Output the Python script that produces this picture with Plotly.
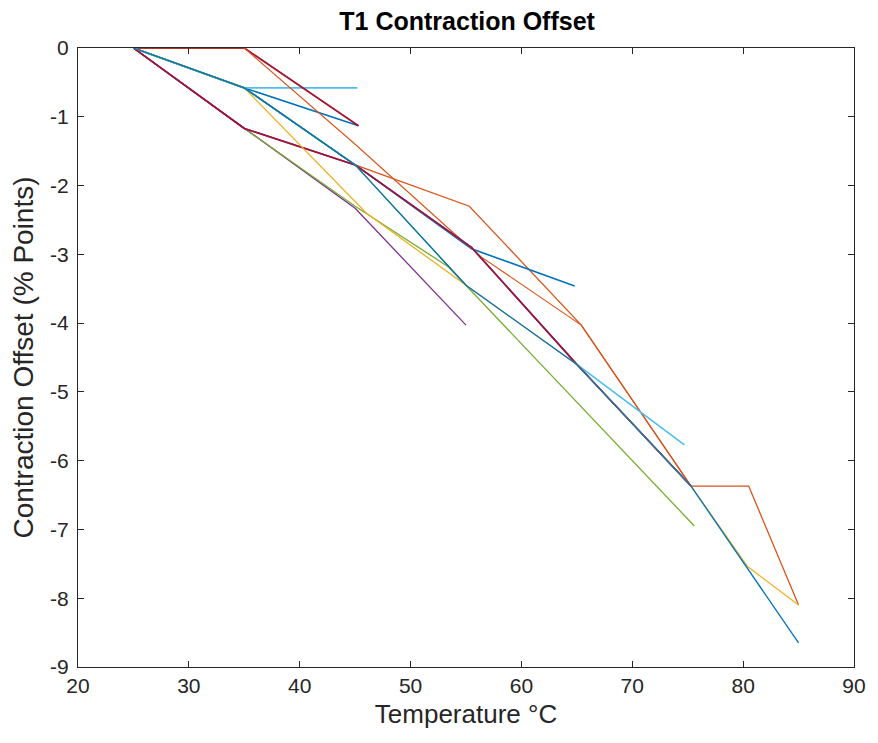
import plotly.graph_objects as go

# MATLAB default colour order
BLUE = "#0072BD"
ORANGE = "#D95319"
YELLOW = "#EDB120"
PURPLE = "#7E2F8E"
GREEN = "#77AC30"
LIGHTBLUE = "#4DBEEE"
DARKRED = "#A2142F"

# Series data (temperature °C, contraction offset % points)
s1_t = [25, 35, 45.3]
s1_v = [0, -0.58, -1.13]

s2_t = [25, 35, 45, 55.3, 65.4, 75.3, 80.5, 85]
s2_v = [0, -0.58, -1.7, -2.3, -4.03, -6.37, -6.37, -8.1]

s3_t = [25, 35, 46, 55, 65, 75.3, 80.4, 85]
s3_v = [0, -0.58, -2.4, -3.45, -4.6, -6.37, -7.54, -8.1]

s4_t = [25, 35, 45, 55]
s4_v = [0, -1.17, -2.33, -4.03]

s5_t = [25, 35, 45, 53.4, 75.6]
s5_v = [0, -1.17, -2.3, -3.18, -6.95]

s6_t = [25, 35, 45.2]
s6_v = [0, -0.58, -0.58]

s7_t = [25, 35, 45.3]
s7_v = [0, 0, -1.13]

s8_t = [25, 35, 45, 55.5, 64.8]
s8_v = [0, -0.58, -1.7, -2.92, -3.46]

s9_t = [25, 35, 45, 53.6, 56.4, 65.4, 75.3]
s9_v = [0, 0, -1.4, -2.65, -3.04, -4.03, -6.37]

s10_t = [25, 35, 45, 55.5, 65, 75.3]
s10_v = [0, -1.17, -1.7, -2.9, -4.6, -6.37]

s11_t = [25, 35, 45, 55]
s11_v = [0, -0.58, -1.7, -3.45]

s12_t = [25, 35, 45, 55.5, 65, 74.7]
s12_v = [0, -0.58, -1.7, -2.9, -4.6, -5.77]

s13_t = [25, 35, 45, 55.5, 65, 75.3]
s13_v = [0, -1.17, -1.7, -2.9, -4.6, -6.37]

s14_t = [25, 35, 45, 55, 65, 75.3, 85]
s14_v = [0, -0.58, -1.7, -3.45, -4.6, -6.37, -8.65]

x_ticks = [20, 30, 40, 50, 60, 70, 80, 90]
y_ticks = [0, -1, -2, -3, -4, -5, -6, -7, -8, -9]

series = [
    (s1_t, s1_v, BLUE, 1.6),
    (s2_t, s2_v, ORANGE, 1.3),
    (s4_t, s4_v, PURPLE, 1.3),
    (s5_t, s5_v, GREEN, 1.3),
    (s6_t, s6_v, LIGHTBLUE, 1.6),
    (s7_t, s7_v, DARKRED, 1.8),
    (s8_t, s8_v, BLUE, 1.6),
    (s9_t, s9_v, ORANGE, 1.1),
    (s12_t, s12_v, LIGHTBLUE, 1.6),
    (s10_t, s10_v, PURPLE, 1.6),
    (s13_t, s13_v, DARKRED, 1.5),
    (s3_t, s3_v, YELLOW, 1.3),
    (s11_t, s11_v, GREEN, 1.3),
    (s14_t, s14_v, BLUE, 1.3),
]

fig = go.Figure()
for t, v, c, w in series:
    fig.add_trace(go.Scatter(x=t, y=v, mode="lines",
                             line=dict(color=c, width=w), showlegend=False))

AX = "#262626"
FONT = "Liberation Sans, Arial, Helvetica, sans-serif"

fig.update_layout(
    width=878, height=743,
    margin=dict(l=78, r=21, t=48, b=76),
    paper_bgcolor="white", plot_bgcolor="white",
    font=dict(family=FONT, color=AX),
    title=dict(text="<b>T1 Contraction Offset</b>", x=0.532, xanchor="center",
               y=1 - 21 / 743, yanchor="middle", yref="container",
               font=dict(size=25, color="black", family=FONT)),
)
fig.update_xaxes(
    range=[20, 90], tickvals=x_ticks, ticktext=[str(v) for v in x_ticks],
    showline=True, linecolor=AX, linewidth=1, mirror="ticks",
    ticks="inside", ticklen=6, tickcolor=AX, showgrid=False, zeroline=False,
    tickfont=dict(size=21, color=AX),
    title=dict(text="Temperature °C", font=dict(size=26, color=AX), standoff=8),
)
fig.update_yaxes(
    range=[-9, 0], tickvals=y_ticks, ticktext=[str(v) for v in y_ticks],
    showline=True, linecolor=AX, linewidth=1, mirror="ticks",
    ticks="inside", ticklen=6, tickcolor=AX, showgrid=False, zeroline=False,
    tickfont=dict(size=21, color=AX), ticklabelstandoff=4,
    title=dict(text="Contraction Offset (% Points)", font=dict(size=28, color=AX), standoff=8),
)

fig.write_html("out.html")
